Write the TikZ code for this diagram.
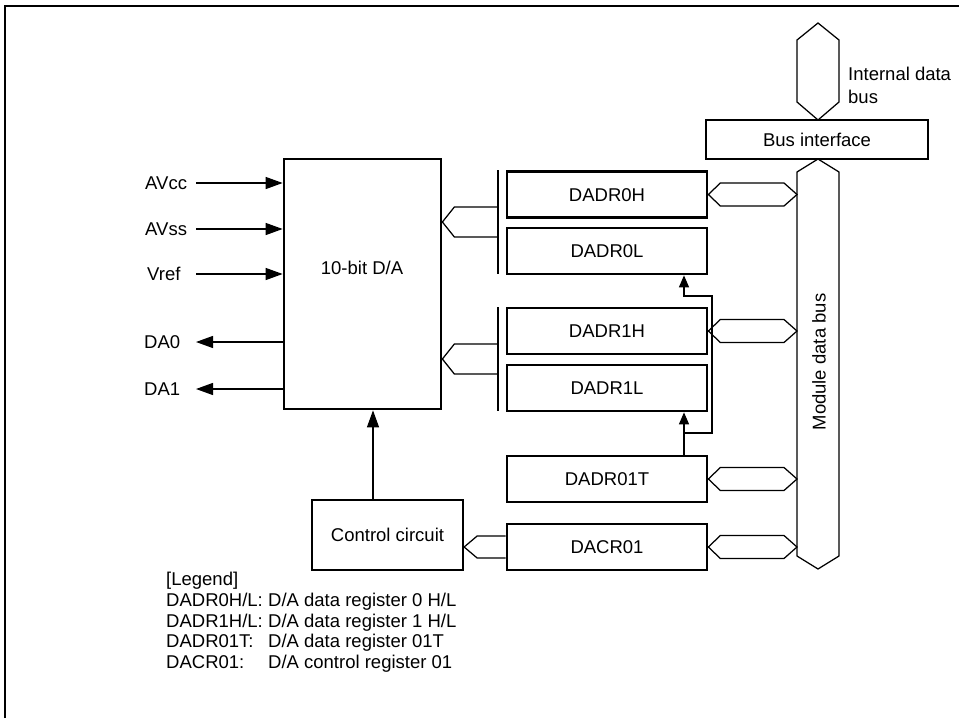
\documentclass[tikz,border=0pt]{standalone}
\usepackage{fontspec}
\setmainfont{Liberation Sans}
\usetikzlibrary{arrows.meta,calc}

% horizontal bus from a register to the module data bus
\newcommand{\regbus}[1]{%
  \draw[busline] let \p1=(#1.east), \p2=(mbusw) in
    (\x1,\y1) -- (\x1+12pt,\y1+11.5pt) -- (\x2-13pt,\y1+11.5pt) -- (\x2,\y1)
    -- (\x2-13pt,\y1-11.5pt) -- (\x1+12pt,\y1-11.5pt) -- cycle;}
% bus from a register pair to the D/A converter
\newcommand{\pairbus}[1]{%
  \draw[thinline] ($(#1)+(0,-52)$) -- ($(#1)+(0,52)$);
  \draw[busline] let \p1=(#1), \p2=(da.east) in
    (\x1,\y1+15pt) -- (\x2+12pt,\y1+15pt) -- (\x2,\y1)
    -- (\x2+12pt,\y1-15pt) -- (\x1,\y1-15pt);}

\begin{document}
\begin{tikzpicture}[x=1pt,y=-1pt,
  font=\fontsize{18.5}{22}\selectfont,
  lbl/.style={inner sep=0pt, text height=13.2pt, text depth=0pt},
  box/.style={draw, line width=2.7pt, inner sep=0pt, text height=13.2pt, text depth=0pt},
  regbox/.style={box, minimum width=200pt, minimum height=46pt},
  thinline/.style={line width=1.25pt},
  busline/.style={line width=1.25pt, line join=miter},
  bigarrow/.style={thinline, -{Triangle[length=17pt,width=12pt]}},
  smallarrow/.style={thinline, -{Triangle[length=12pt,width=10pt]}},
]
\useasboundingbox (0,0) rectangle (959,718);

% frame
\draw[line width=2.5pt] (5,718) -- (5,6) -- (959,6);

% converter and control
\node[box, minimum width=157pt, minimum height=250pt] (da) at (362.5,284) {};
\node[lbl] (dalabel) at (362,268) {10-bit D/A};
\node[box, line width=2.3pt, minimum width=151pt, minimum height=70pt] (ctrl) at (387.5,535) {Control circuit};

% registers
\node[regbox] (dadr0h)  at (607,194.5) {DADR0H};
\node[regbox] (dadr0l)  at (607,251)   {DADR0L};
\node[regbox] (dadr1h)  at (607,331)   {DADR1H};
\node[regbox] (dadr1l)  at (607,388)   {DADR1L};
\node[regbox] (dadr01t) at (607,479)   {DADR01T};
\node[regbox] (dacr01)  at (607,547)   {DACR01};

% bus interface and data buses
\node[box, minimum width=222pt, minimum height=39pt] (busif) at (817,139.5) {Bus interface};
\draw[busline] (818,23) -- (839,40) -- (839,102) -- (818,120) -- (797,102) -- (797,40) -- cycle;
\node[anchor=north west, align=left, inner sep=0pt, font=\fontsize{18.5}{23}\selectfont]
  (ibuslabel) at (848,66.5) {Internal data\\bus};
\draw[busline] (818,159) -- (839,172) -- (839,556) -- (818,569) -- (797,556) -- (797,172) -- cycle;
\node[lbl, rotate=90] (mbuslabel) at (819,362) {Module data bus};
\coordinate (mbusw) at (797,365);

\regbus{dadr0h}
\regbus{dadr1h}
\regbus{dadr01t}
\regbus{dacr01}

% register pairs to converter
\coordinate (sep0) at (498,222);
\coordinate (sep1) at (498,359);
\pairbus{sep0}
\pairbus{sep1}

% control register to control circuit
\draw[busline] let \p1=(dacr01.west), \p2=(ctrl.east) in
  (\x1,\y1+11pt) -- (\x2+13pt,\y1+11pt) -- (\x2,\y1)
  -- (\x2+13pt,\y1-11pt) -- (\x1,\y1-11pt);

% DADR01T transfer paths
\coordinate (fbj) at (684,433);
\coordinate (fbr) at (712,296);
\draw[smallarrow] (dadr01t.north -| fbj) -- (dadr1l.south -| fbj);
\draw[smallarrow] (fbj) -| (fbr) -- (fbr -| fbj) -- (dadr0l.south -| fbj);

% control circuit to converter
\coordinate (cx) at (373,450);
\draw[bigarrow] (ctrl.north -| cx) -- (da.south -| cx);

% analog pins
\node[lbl, anchor=west] (avcc) at (145,183) {AVcc};
\node[lbl, anchor=west] (avss) at (145,229) {AVss};
\node[lbl, anchor=west] (vref) at (147,274) {Vref};
\node[lbl, anchor=west] (da0)  at (144,342) {DA0};
\node[lbl, anchor=west] (da1)  at (144,389) {DA1};
\coordinate (inx) at (196,0);
\draw[bigarrow] (avcc -| inx) -- (avcc -| da.west);
\draw[bigarrow] (avss -| inx) -- (avss -| da.west);
\draw[bigarrow] (vref -| inx) -- (vref -| da.west);
\draw[bigarrow] (da0 -| da.west) -- (da0 -| inx);
\draw[bigarrow] (da1 -| da.west) -- (da1 -| inx);

% legend
\node[lbl, anchor=west] (legend) at (166,579) {[Legend]};
\node[lbl, anchor=west] (k1) at (166,600) {DADR0H/L:};
\node[lbl, anchor=west] (d1) at (268,600) {D/A data register 0 H/L};
\node[lbl, anchor=west] (k2) at (166,621) {DADR1H/L:};
\node[lbl, anchor=west] (d2) at (268,621) {D/A data register 1 H/L};
\node[lbl, anchor=west] (k3) at (166,641) {DADR01T:};
\node[lbl, anchor=west] (d3) at (268,641) {D/A data register 01T};
\node[lbl, anchor=west] (k4) at (166,662) {DACR01:};
\node[lbl, anchor=west] (d4) at (268,662) {D/A control register 01};
\end{tikzpicture}
\end{document}
